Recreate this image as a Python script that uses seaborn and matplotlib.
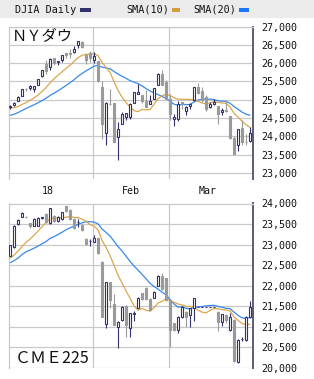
import numpy as np
import pandas as pd
import matplotlib
matplotlib.use("Agg")
import matplotlib.pyplot as plt
from matplotlib.patches import Rectangle
import seaborn as sns

# ---------------- data ----------------
dates = ["01-02","01-03","01-04","01-05","01-08","01-09","01-10","01-11","01-12","01-16",
         "01-17","01-18","01-19","01-22","01-23","01-24","01-25","01-26","01-29","01-30",
         "01-31","02-01","02-02","02-05","02-06","02-07","02-08","02-09","02-12","02-13",
         "02-14","02-15","02-16","02-20","02-21","02-22","02-23","02-26","02-27","02-28",
         "03-01","03-02","03-05","03-06","03-07","03-08","03-09","03-12","03-13","03-14",
         "03-15","03-16","03-19","03-20","03-21","03-22","03-23","03-26","03-27","03-28",
         "03-29"]
month_labels = ["18", "Feb", "Mar"]
month_label_pos = [9.5, 30.3, 49.3]
month_bounds = [20.75, 39.75]

# DJIA daily OHLC
dj_open = [24809,24850,24964,25114,25308,25313,25308,25406,25638,25987,
           25893,26128,26020,26077,26279,26290,26293,26486,26584,26209,
           26268,26083,26062,25338,24085,24899,24903,23992,24338,24541,
           24535,24923,25165,25124,24964,24876,25033,25395,25702,25486,
           25024,24471,24486,24931,24708,24826,25007,25357,25237,25077,
           24810,24879,24844,24654,24722,24555,23958,23757,24240,23852,
           23873]
dj_high = [24864,24941,25105,25299,25311,25401,25375,25575,25812,26086,
           26154,26154,26072,26215,26286,26393,26459,26617,26609,26239,
           26338,26306,26062,25520,24947,25293,24904,24382,24667,24650,
           24924,25201,25432,25125,25275,25131,25325,25722,25801,25531,
           25150,24613,24954,24942,24818,24902,25336,25449,25337,25125,
           24932,25019,24844,24764,24990,24555,24001,24208,24457,24061,
           24262]
dj_low = [24741,24825,24963,25112,25235,25264,25226,25405,25625,25710,
          25810,25962,25936,26023,26149,26154,26267,26415,26424,25985,
          26030,26014,25490,23924,23778,24860,23849,23360,24338,24456,
          24470,24903,25149,24900,24790,24876,25013,25395,25400,25017,
          24444,24282,24408,24756,24580,24742,24979,25160,24947,24693,
          24770,24865,24337,24591,24659,23944,23509,23609,23778,23758,
          23862]
dj_close = [24824,24922,25075,25296,25283,25386,25370,25575,25803,25792,
            26116,26017,26072,26214,26211,26252,26392,26617,26439,26077,
            26149,26186,25521,24346,24912,24893,23860,24191,24601,24640,
            24893,25200,25219,24965,24798,24963,25310,25709,25410,25029,
            24609,24538,24875,24885,24801,24895,25336,25179,25008,24759,
            24873,24946,24611,24727,24683,23958,23533,24202,23858,23849,
            24103]
# DJIA closes Dec 4 - Dec 29 2017 (for the moving averages)
dj_prior_close = [24290,24180,24140,24211,24329,24386,24504,24585,24509,24651,
                  24792,24754,24726,24782,24754,24746,24775,24838,24719]

# CME Nikkei 225 futures daily OHLC
cme_open = [22730,22930,23500,23675,23683,23520,23455,23463,23640,23740,
            23520,23690,23577,23626,23927,23845,23626,23540,23480,23138,
            23085,23073,23155,22585,21057,22081,21545,21000,21163,21512,
            20960,21320,21463,21813,21935,21675,21707,22000,22244,22179,
            21650,21081,20919,21244,21366,21285,21447,21470,21470,21470,
            21470,21470,21366,21122,21285,20919,21163,20130,20695,20675,
            21244]
cme_high = [23000,23470,23620,23800,23700,23530,23640,23660,23680,23760,
            23900,23720,23700,23800,23950,23860,23640,23620,23500,23150,
            23140,23236,23170,22600,22100,22090,21790,21150,21500,21530,
            21340,21370,21720,21830,21975,21690,21870,22260,22300,22190,
            21660,21100,21260,21500,21380,21460,21700,21470,21470,21470,
            21470,21470,21380,21320,21300,21330,21180,20690,20740,21260,
            21626]
cme_low = [22710,22910,23480,23660,23640,23400,23440,23440,23620,23530,
           23500,23560,23560,23610,23800,23610,23390,23420,23340,22990,
           22970,23060,22780,21230,20960,21450,21030,20470,21150,20756,
           20756,21130,21450,21660,21660,21390,21690,21980,21900,21630,
           20512,20900,20840,21220,21000,21000,21130,21470,21470,21470,
           21470,21470,20894,21020,21080,20890,20130,20110,20640,20650,
           21200]
cme_close = [22980,23460,23600,23780,23660,23440,23626,23642,23660,23545,
             23886,23570,23683,23790,23821,23626,23400,23545,23358,23008,
             23090,23171,22789,21244,22081,21650,21040,21106,21488,21040,
             21325,21325,21707,21675,21675,21407,21854,22244,21919,21650,
             20919,20919,21244,21488,21244,21447,21691,21470,21470,21470,
             21470,21470,21122,21300,21163,21244,20163,20675,20700,21244,
             21488]
# CME closes Dec 4 - Dec 29 2017 (estimated, for the moving averages)
cme_prior_close = [22420,22340,22040,22360,22580,22700,22630,22540,22470,22340,
                   22685,22655,22675,22635,22645,22685,22625,22605,22485]

# ---------------- style ----------------
NAVY = "#33336b"
GRAYC = "#9a9a9a"
ORANGE = "#dca64c"
BLUE = "#3588f2"
GRID = "#c9c9c9"

sns.set_theme(style="white")
plt.rcParams["font.family"] = ["DejaVu Sans Mono", "Noto Sans CJK JP"]

W, H = 314, 379
fig = plt.figure(figsize=(W / 100, H / 100), dpi=100)
fig.patch.set_facecolor("white")

def px_axes(left, top, right, bottom):
    return fig.add_axes([left / W, 1 - bottom / H, (right - left) / W, (bottom - top) / H])

ax1 = px_axes(9, 26.5, 253, 179)
ax2 = px_axes(9, 203.5, 253, 368)

def frame(ax, ylo, yhi, ticks):
    ax.set_facecolor("white")
    ax.set_xlim(-0.25, len(dates) - 0.25)
    ax.set_ylim(ylo, yhi)
    for t in ticks:
        ax.axhline(t, color=GRID, lw=0.9, zorder=0)
    for b in month_bounds:
        ax.axvline(b, color=GRID, lw=0.9, zorder=0)
    ax.set_yticks(ticks)
    ax.set_yticklabels([f"{t:,}" for t in ticks])
    ax.yaxis.tick_right()
    ax.tick_params(axis="y", length=0, pad=6.3, labelsize=7.2, colors="#111111")
    ax.set_xticks([])
    ax.spines["bottom"].set_visible(False)
    ax.spines["top"].set_color(GRID)
    ax.spines["top"].set_linewidth(0.9)
    ax.spines["left"].set_color(GRID)
    ax.spines["left"].set_linewidth(0.9)
    ax.spines["right"].set_color("#5c5c78")
    ax.spines["right"].set_linewidth(1.4)

def candles(ax, o, h, l, c, prior):
    o, h, l, c = map(np.asarray, (o, h, l, c))
    x = np.arange(len(o))
    closes = pd.Series(list(prior) + list(c), dtype=float)
    sma10 = closes.rolling(10).mean().to_numpy()[len(prior):]
    sma20 = closes.rolling(20).mean().to_numpy()[len(prior):]
    sns.lineplot(x=x, y=sma20, ax=ax, color=BLUE, lw=0.9, zorder=2)
    sns.lineplot(x=x, y=sma10, ax=ax, color=ORANGE, lw=0.9, zorder=2)
    up = c >= o
    for cond, fc, ec in [(up, "white", NAVY), (~up, GRAYC, GRAYC)]:
        ax.vlines(x[cond], l[cond], h[cond], color=ec, lw=0.8, zorder=3)
        bot = np.minimum(o, c)[cond]
        hgt = np.abs(c - o)[cond]
        ax.bar(x[cond], hgt, bottom=bot, width=0.5, color=fc, edgecolor=ec,
               linewidth=0.8, zorder=4)

frame(ax1, 22839, 27000, list(range(23000, 27001, 500)))
frame(ax2, 19993, 24000, list(range(20000, 24001, 500)))
candles(ax1, dj_open, dj_high, dj_low, dj_close, dj_prior_close)
candles(ax2, cme_open, cme_high, cme_low, cme_close, cme_prior_close)
for ax in (ax1, ax2):
    ax.set_xlabel("")
    ax.set_ylabel("")
    ax.set_xlim(-0.25, len(dates) - 0.25)

# month labels between the panels
for lab, pos in zip(month_labels, month_label_pos):
    ax1.text(pos, -0.078, lab, transform=ax1.get_xaxis_transform(), ha="center",
             va="center", fontsize=7.2, color="#111111")

# panel titles
ax1.text(3 / 244, 0.942, "ＮＹダウ", transform=ax1.transAxes, ha="left", va="center",
         fontsize=11, family=["Noto Sans CJK JP"], color="#111111")
ax2.text(6 / 244, 0.058, "ＣＭＥ225", transform=ax2.transAxes, ha="left", va="center",
         fontsize=11.5, family=["Noto Sans CJK JP"], color="#111111")

# header band with legend
fig.add_artist(Rectangle((0, 1 - 17.5 / H), 1, 17.5 / H, transform=fig.transFigure,
                         facecolor="#ebebeb", edgecolor="none", zorder=0))
def hdr_text(x, s):
    fig.text(x / W, 1 - 10 / H, s, ha="left", va="center", fontsize=7.3, color="#111111")
def swatch(x0, x1, col):
    fig.add_artist(Rectangle((x0 / W, 1 - 11.7 / H), (x1 - x0) / W, 3.4 / H,
                             transform=fig.transFigure, facecolor=col, edgecolor="none"))
hdr_text(15, "DJIA Daily")
swatch(80, 91, NAVY)
hdr_text(126, "SMA(10)")
swatch(172, 180, "#d4a03c")
hdr_text(193, "SMA(20)")
swatch(239, 249, "#1a75ff")

fig.savefig("out.png", dpi=100, facecolor="white")
